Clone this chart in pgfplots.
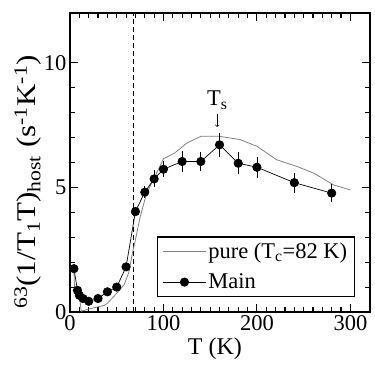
\documentclass[border=0pt]{standalone}
\usepackage{fontspec}
\setmainfont{Liberation Serif}
\usepackage{pgfplots}
\pgfplotsset{compat=1.18}
\newcommand{\fs}{\fontsize{22.5}{26}\selectfont}

\begin{document}
\begin{tikzpicture}
\useasboundingbox (0,0) rectangle (374pt,374pt);
\begin{axis}[
    at={(70pt,62pt)}, anchor=south west,
    scale only axis,
    width=300pt, height=299pt,
    xmin=0, xmax=321, ymin=0, ymax=12,
    xtick={0,100,200,300}, ytick={0,5,10},
    minor x tick num=9, minor y tick num=4,
    tick align=inside,
    major tick length=8pt, minor tick length=5pt,
    tick style={black, line width=1.1pt},
    axis line style={line width=1.6pt},
    /pgf/number format/assume math mode=true,
    tick label style={font=\fs},
    xlabel={T (K)},
    ylabel={\scalebox{1.15}[1]{\textsuperscript{63}(1/T\textsubscript{1}T)\textsubscript{host} (s\textsuperscript{-1}K\textsuperscript{-1})}},
    xlabel style={at={(axis description cs:0.483,-0.124)}, anchor=center, font=\fontsize{24}{28}\selectfont},
    ylabel style={at={(axis description cs:-0.14,0.435)}, anchor=center, font=\fontsize{27}{31}\selectfont},
    legend style={at={(0.95,0.05)}, anchor=south east, font=\fontsize{22.5}{26}\selectfont,
        draw=black, line width=1.5pt, inner xsep=5pt, inner ysep=4pt, row sep=10pt},
    legend cell align=left,
    legend image code/.code={\draw[mark repeat=2,mark phase=2,#1] plot coordinates {(0pt,0pt) (21.5pt,0pt) (43pt,0pt)};},
    clip=false,
]
% dashed Tc line
\addplot[black, dash pattern=on 5pt off 3pt, line width=0.8pt, forget plot] coordinates {(68,0) (68,12)};
% pure sample
\addplot[gray, line width=0.8pt] coordinates {
    (4.2,1.72) (4.8,1.0) (9,1.0) (12,0.03) (20,0.12) (37,0.27) (40,0.35)
    (50,0.75) (58,1.1) (63,1.6) (67,2.4) (70,2.9) (75,3.8) (82,4.77)
    (91,5.44) (100,6.15) (112,6.38) (125,6.78) (140,7.05) (160,7.05)
    (182,6.92) (200,6.65) (221,6.11) (243,5.84) (261,5.57) (282,5.1) (300,4.9)
};
\addlegendentry{pure (T\textsubscript{c}=82 K)}
% Main sample
\addplot[black, line width=0.7pt, mark=*, mark size=4.2pt,
    error bars/.cd, y dir=both, y explicit, error mark=none,
    error bar style={line width=0.8pt}]
    coordinates {
    (4.2,1.74) +- (0,0) (8,0.87) +- (0,0) (10,0.67) +- (0,0)
    (14,0.54) +- (0,0) (20,0.43) +- (0,0) (30,0.54) +- (0,0)
    (40,0.81) +- (0,0) (50,1.0) +- (0,0) (60,1.81) +- (0,0)
    (70,4.03) +- (0,0.15) (80,4.81) +- (0,0.24) (90,5.34) +- (0,0.34)
    (100,5.73) +- (0,0.33) (120,6.04) +- (0,0.42) (140,6.04) +- (0,0.4)
    (160,6.71) +- (0,0.47) (180,5.97) +- (0,0.44) (200,5.81) +- (0,0.43)
    (240,5.19) +- (0,0.4) (280,4.77) +- (0,0.37)
};
\addlegendentry{Main}
\node[font=\fs] at (axis cs:157.5,8.5) {T\textsubscript{s}};
\draw[->, line width=0.6pt] (axis cs:157.5,7.93) -- (axis cs:157.5,7.43);
\end{axis}
\end{tikzpicture}
\end{document}
